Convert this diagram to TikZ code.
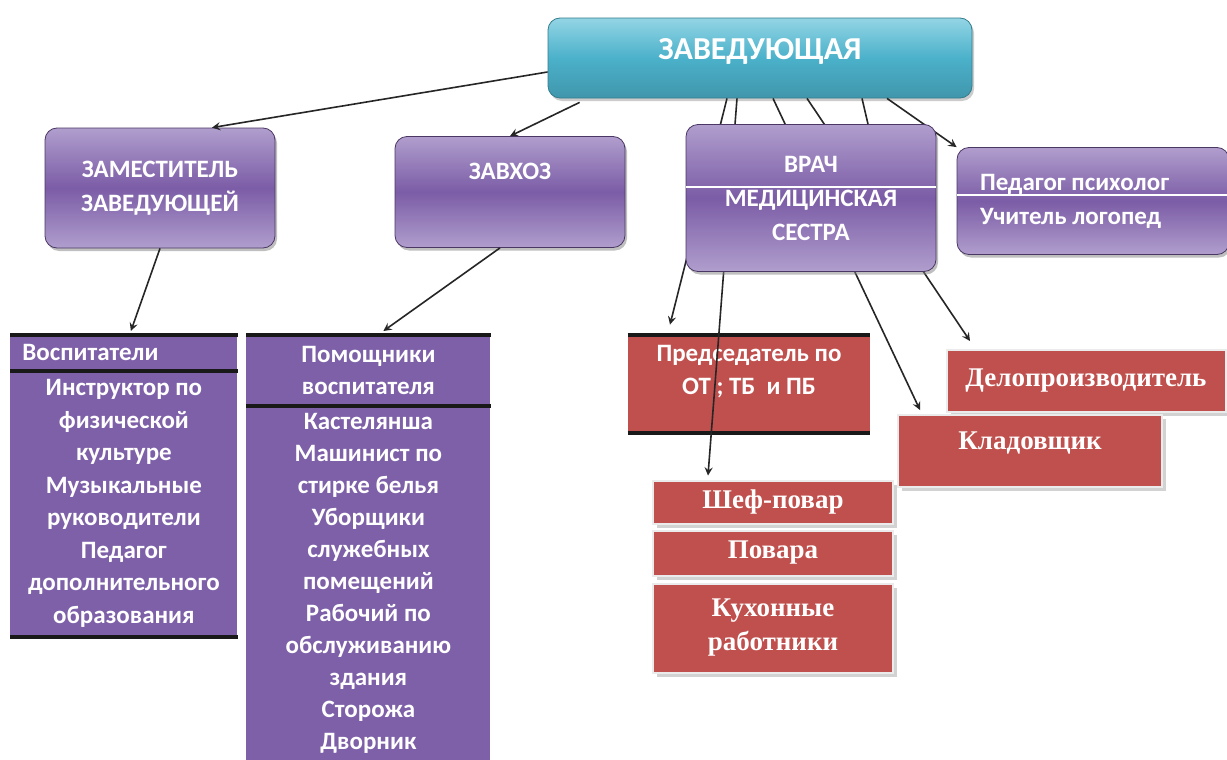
\documentclass[tikz,border=0pt]{standalone}
\usepackage{fontspec}
\setmainfont{Carlito}
\newfontfamily\timesfont{Liberation Serif}
\usetikzlibrary{calc, positioning, shadows}

\definecolor{zavcyan}{HTML}{4BB1CA}
\definecolor{zavlight}{HTML}{93D5E5}
\definecolor{violetmid}{HTML}{7B5CA6}
\definecolor{violetlight}{HTML}{B09ECD}
\definecolor{tableviolet}{HTML}{7D60A8}
\definecolor{boxred}{HTML}{C0504D}

\tikzset{
  conn/.style={draw=black!85, line width=0.8pt},
  arr/.style={conn, -stealth},
  topbox/.style={rounded corners=6pt, draw=zavcyan!70!black, top color=zavlight,
    bottom color=zavcyan!85!black, middle color=zavcyan, text=white,
    font=\bfseries\fontsize{16}{19}\selectfont,
    drop shadow={shadow xshift=1pt, shadow yshift=-1.5pt, opacity=.4}},
  purplebox/.style={rounded corners=6pt, draw=violetmid!60!black, top color=violetlight,
    bottom color=violetlight, middle color=violetmid, text=white, align=center,
    font=\bfseries\fontsize{12.5}{17}\selectfont,
    drop shadow={shadow xshift=1pt, shadow yshift=-1.5pt, opacity=.5}},
  tablebox/.style={fill=tableviolet, text=white, align=center, inner sep=0pt,
    font=\bfseries\fontsize{12.5}{16.25}\selectfont},
  redbox/.style={fill=boxred, draw=white!92!black, line width=1pt, text=white,
    font=\timesfont\bfseries\fontsize{13.5}{17}\selectfont, align=center,
    drop shadow={shadow xshift=2pt, shadow yshift=-2pt, opacity=.35}},
  bar/.style={draw=black!90, line width=2pt},
  sepline/.style={draw=white, line width=1pt}
}

\begin{document}
\begin{tikzpicture}[x=0.5pt,y=-0.5pt]
  \fill[white] (0,0) rectangle (1227,760);
  \useasboundingbox (0,0) rectangle (1227,760);

  % head
  \node[topbox, minimum width=212pt, minimum height=40pt, text depth=9pt] (zav) at (760,58) {ЗАВЕДУЮЩАЯ};

  % second row
  \node[purplebox, minimum width=115pt, minimum height=60pt] (zam) at (160,188)
    {ЗАМЕСТИТЕЛЬ\\ЗАВЕДУЮЩЕЙ};
  \node[purplebox, minimum width=115pt, minimum height=55.5pt, text depth=21pt] (zavhoz) at (510,192) {ЗАВХОЗ};
  \node[purplebox, minimum width=136pt, minimum height=53.5pt, align=flush left,
    text width=113pt, inner xsep=11.5pt] (ped) at (1093,201)
    {Педагог психолог\\Учитель логопед};
  \draw[sepline] ($(ped.west)+(0,-6)$) -- ($(ped.east)+(0,-6)$);

  % tables
  \node[tablebox, anchor=north west, minimum width=113.5pt, minimum height=17.5pt,
    align=flush left, text width=101.5pt, inner xsep=6pt] (vosph) at (10,335) {Воспитатели};
  \node[tablebox, anchor=north west, minimum width=113.5pt, minimum height=133pt] (vosp) at (10,370)
    {Инструктор по\\физической\\культуре\\Музыкальные\\руководители\\Педагог\\дополнительного\\образования};
  \node[tablebox, anchor=north west, minimum width=122pt, minimum height=35pt] (pomh) at (246,335)
    {Помощники\\воспитателя};
  \node[tablebox, anchor=north west, minimum width=122pt, minimum height=177.5pt,
    font=\bfseries\fontsize{12.5}{16}\selectfont] (pom) at (246,405)
    {Кастелянша\\Машинист по\\стирке белья\\Уборщики\\служебных\\помещений\\Рабочий по\\обслуживанию\\здания\\Сторожа\\Дворник};
  \draw[bar] (vosph.north west) -- (vosph.north east);
  \draw[bar] (vosph.south west) -- (vosph.south east);
  \draw[bar] (vosp.south west) -- (vosp.south east);
  \draw[bar] (pomh.north west) -- (pomh.north east);
  \draw[bar] (pomh.south west) -- (pomh.south east);

  % red boxes
  \node[redbox, minimum width=139.5pt, minimum height=31pt] (delo) at (1086,381) {Делопроизводитель};
  \node[redbox, minimum width=132pt, minimum height=36pt, text depth=10.5pt] (klad) at (1030,451) {Кладовщик};
  \node[redbox, minimum width=120pt, minimum height=21.5pt] (shef) at (773,502) {Шеф-повар};
  \node[redbox, minimum width=120pt, minimum height=22.5pt] (povar) at (773,553) {Повара};
  \node[redbox, minimum width=120pt, minimum height=44.5pt] (kuhn) at (773,628) {Кухонные\\работники};
  \node[fill=boxred, text=white, align=center, minimum width=121pt, minimum height=49pt,
    text depth=14pt, font=\bfseries\fontsize{12.5}{16.5}\selectfont] (pred) at (749,384)
    {Председатель по\\ОТ ; ТБ~~и ПБ};
  \draw[bar] (pred.north west) -- (pred.north east);
  \draw[bar] (pred.south west) -- (pred.south east);

  % connectors
  \draw[arr] ($(zav.west)+(0,14)$) -- ($(zam.north)+(52,0)$);
  \draw[arr] ($(zav.south west)+(32,4)$) -- (zavhoz.north);
  \draw[arr] (zam.south) -- ($(vosph.north)+(7,-4)$);
  \draw[arr] ($(zavhoz.south)+(-10,0)$) -- ($(pomh.north)+(15,-4)$);
  \draw[arr] ($(zav.south)+(-33,0)$) -- ($(pred.north)+(-79,-10)$);
  \draw[arr] ($(zav.south)+(-23,0)$) -- ($(shef.north)+(-65,-4)$);
  \draw[arr] ($(zav.south)+(13,0)$) -- ($(klad.north)+(-110,-4)$);
  \draw[arr] ($(zav.south)+(47,0)$) -- ($(delo.north)+(-116,-8)$);
  \draw[arr] ($(zav.south)+(127,0)$) -- (ped.north west);

  % drawn over the lines
  \node[purplebox, minimum width=125pt, minimum height=73.5pt] (vrach) at (811,198)
    {ВРАЧ\\МЕДИЦИНСКАЯ\\СЕСТРА};
  \draw[sepline] ($(vrach.west)+(0,-11)$) -- ($(vrach.east)+(0,-11)$);
  \draw[conn] ($(zav.south)+(102,0)$) -- ($(vrach.north)+(57,0)$);
\end{tikzpicture}
\end{document}
